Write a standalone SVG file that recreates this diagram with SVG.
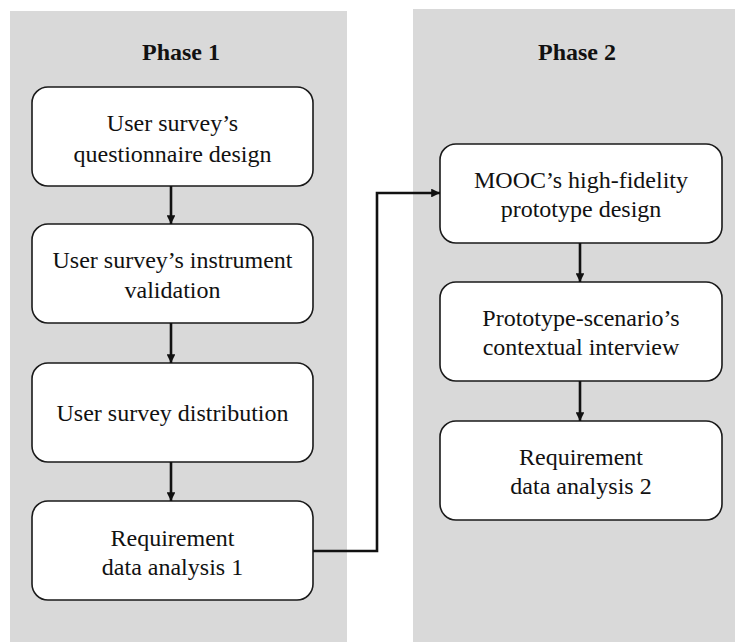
<svg xmlns="http://www.w3.org/2000/svg" width="735" height="642" viewBox="0 0 735 642" font-family="Liberation Serif, Times New Roman, Times, DejaVu Serif, serif">
  <style>
    .panel { fill: #d9d9d9; }
    .box { fill: #ffffff; stroke: #1a1a1a; stroke-width: 1.6; }
    .label { font-size: 24px; fill: #111; text-anchor: middle; }
    .title { font-size: 24px; font-weight: bold; fill: #111; text-anchor: middle; }
    .link { fill: none; stroke: #111; stroke-width: 2.6; marker-end: url(#head); }
  </style>
  <defs>
    <marker id="head" viewBox="0 0 10 10" refX="10" refY="5" markerWidth="3.4" markerHeight="3.4" orient="auto" markerUnits="strokeWidth">
      <path d="M0,0 L10,5 L0,10 Z" fill="#111"/>
    </marker>
  </defs>

  <rect width="735" height="642" fill="#ffffff"/>

  <!-- phase panels -->
  <g id="phase1">
    <rect class="panel" x="10" y="11" width="337" height="631"/>
    <text class="title" x="181" y="60">Phase 1</text>
  </g>
  <g id="phase2">
    <rect class="panel" x="413" y="9" width="322" height="633"/>
    <text class="title" x="577" y="60">Phase 2</text>
  </g>

  <!-- phase 1 steps -->
  <g id="questionnaire-design">
    <rect class="box" x="32" y="87" width="281" height="99" rx="16"/>
    <text class="label" x="172.5" y="131">User survey’s</text>
    <text class="label" x="172.5" y="162">questionnaire design</text>
  </g>
  <g id="instrument-validation">
    <rect class="box" x="32" y="224" width="281" height="99" rx="16"/>
    <text class="label" x="172.5" y="268">User survey’s instrument</text>
    <text class="label" x="172.5" y="298">validation</text>
  </g>
  <g id="survey-distribution">
    <rect class="box" x="32" y="363" width="281" height="99" rx="16"/>
    <text class="label" x="172.5" y="421">User survey distribution</text>
  </g>
  <g id="analysis-1">
    <rect class="box" x="32" y="501" width="281" height="99" rx="16"/>
    <text class="label" x="172.5" y="546">Requirement</text>
    <text class="label" x="172.5" y="575">data analysis 1</text>
  </g>

  <!-- phase 2 steps -->
  <g id="prototype-design">
    <rect class="box" x="440" y="144" width="282" height="99" rx="16"/>
    <text class="label" x="581" y="188">MOOC’s high-fidelity</text>
    <text class="label" x="581" y="217">prototype design</text>
  </g>
  <g id="contextual-interview">
    <rect class="box" x="440" y="282" width="282" height="99" rx="16"/>
    <text class="label" x="581" y="326">Prototype-scenario’s</text>
    <text class="label" x="581" y="355">contextual interview</text>
  </g>
  <g id="analysis-2">
    <rect class="box" x="440" y="421" width="282" height="99" rx="16"/>
    <text class="label" x="581" y="465">Requirement</text>
    <text class="label" x="581" y="494">data analysis 2</text>
  </g>

  <!-- connectors -->
  <g id="connectors">
    <path class="link" d="M171,186 V224"/>
    <path class="link" d="M171,323 V363"/>
    <path class="link" d="M171,462 V501"/>
    <path class="link" d="M313,551 H377 V193 H440"/>
    <path class="link" d="M580,243 V282"/>
    <path class="link" d="M580,381 V421"/>
  </g>
</svg>
